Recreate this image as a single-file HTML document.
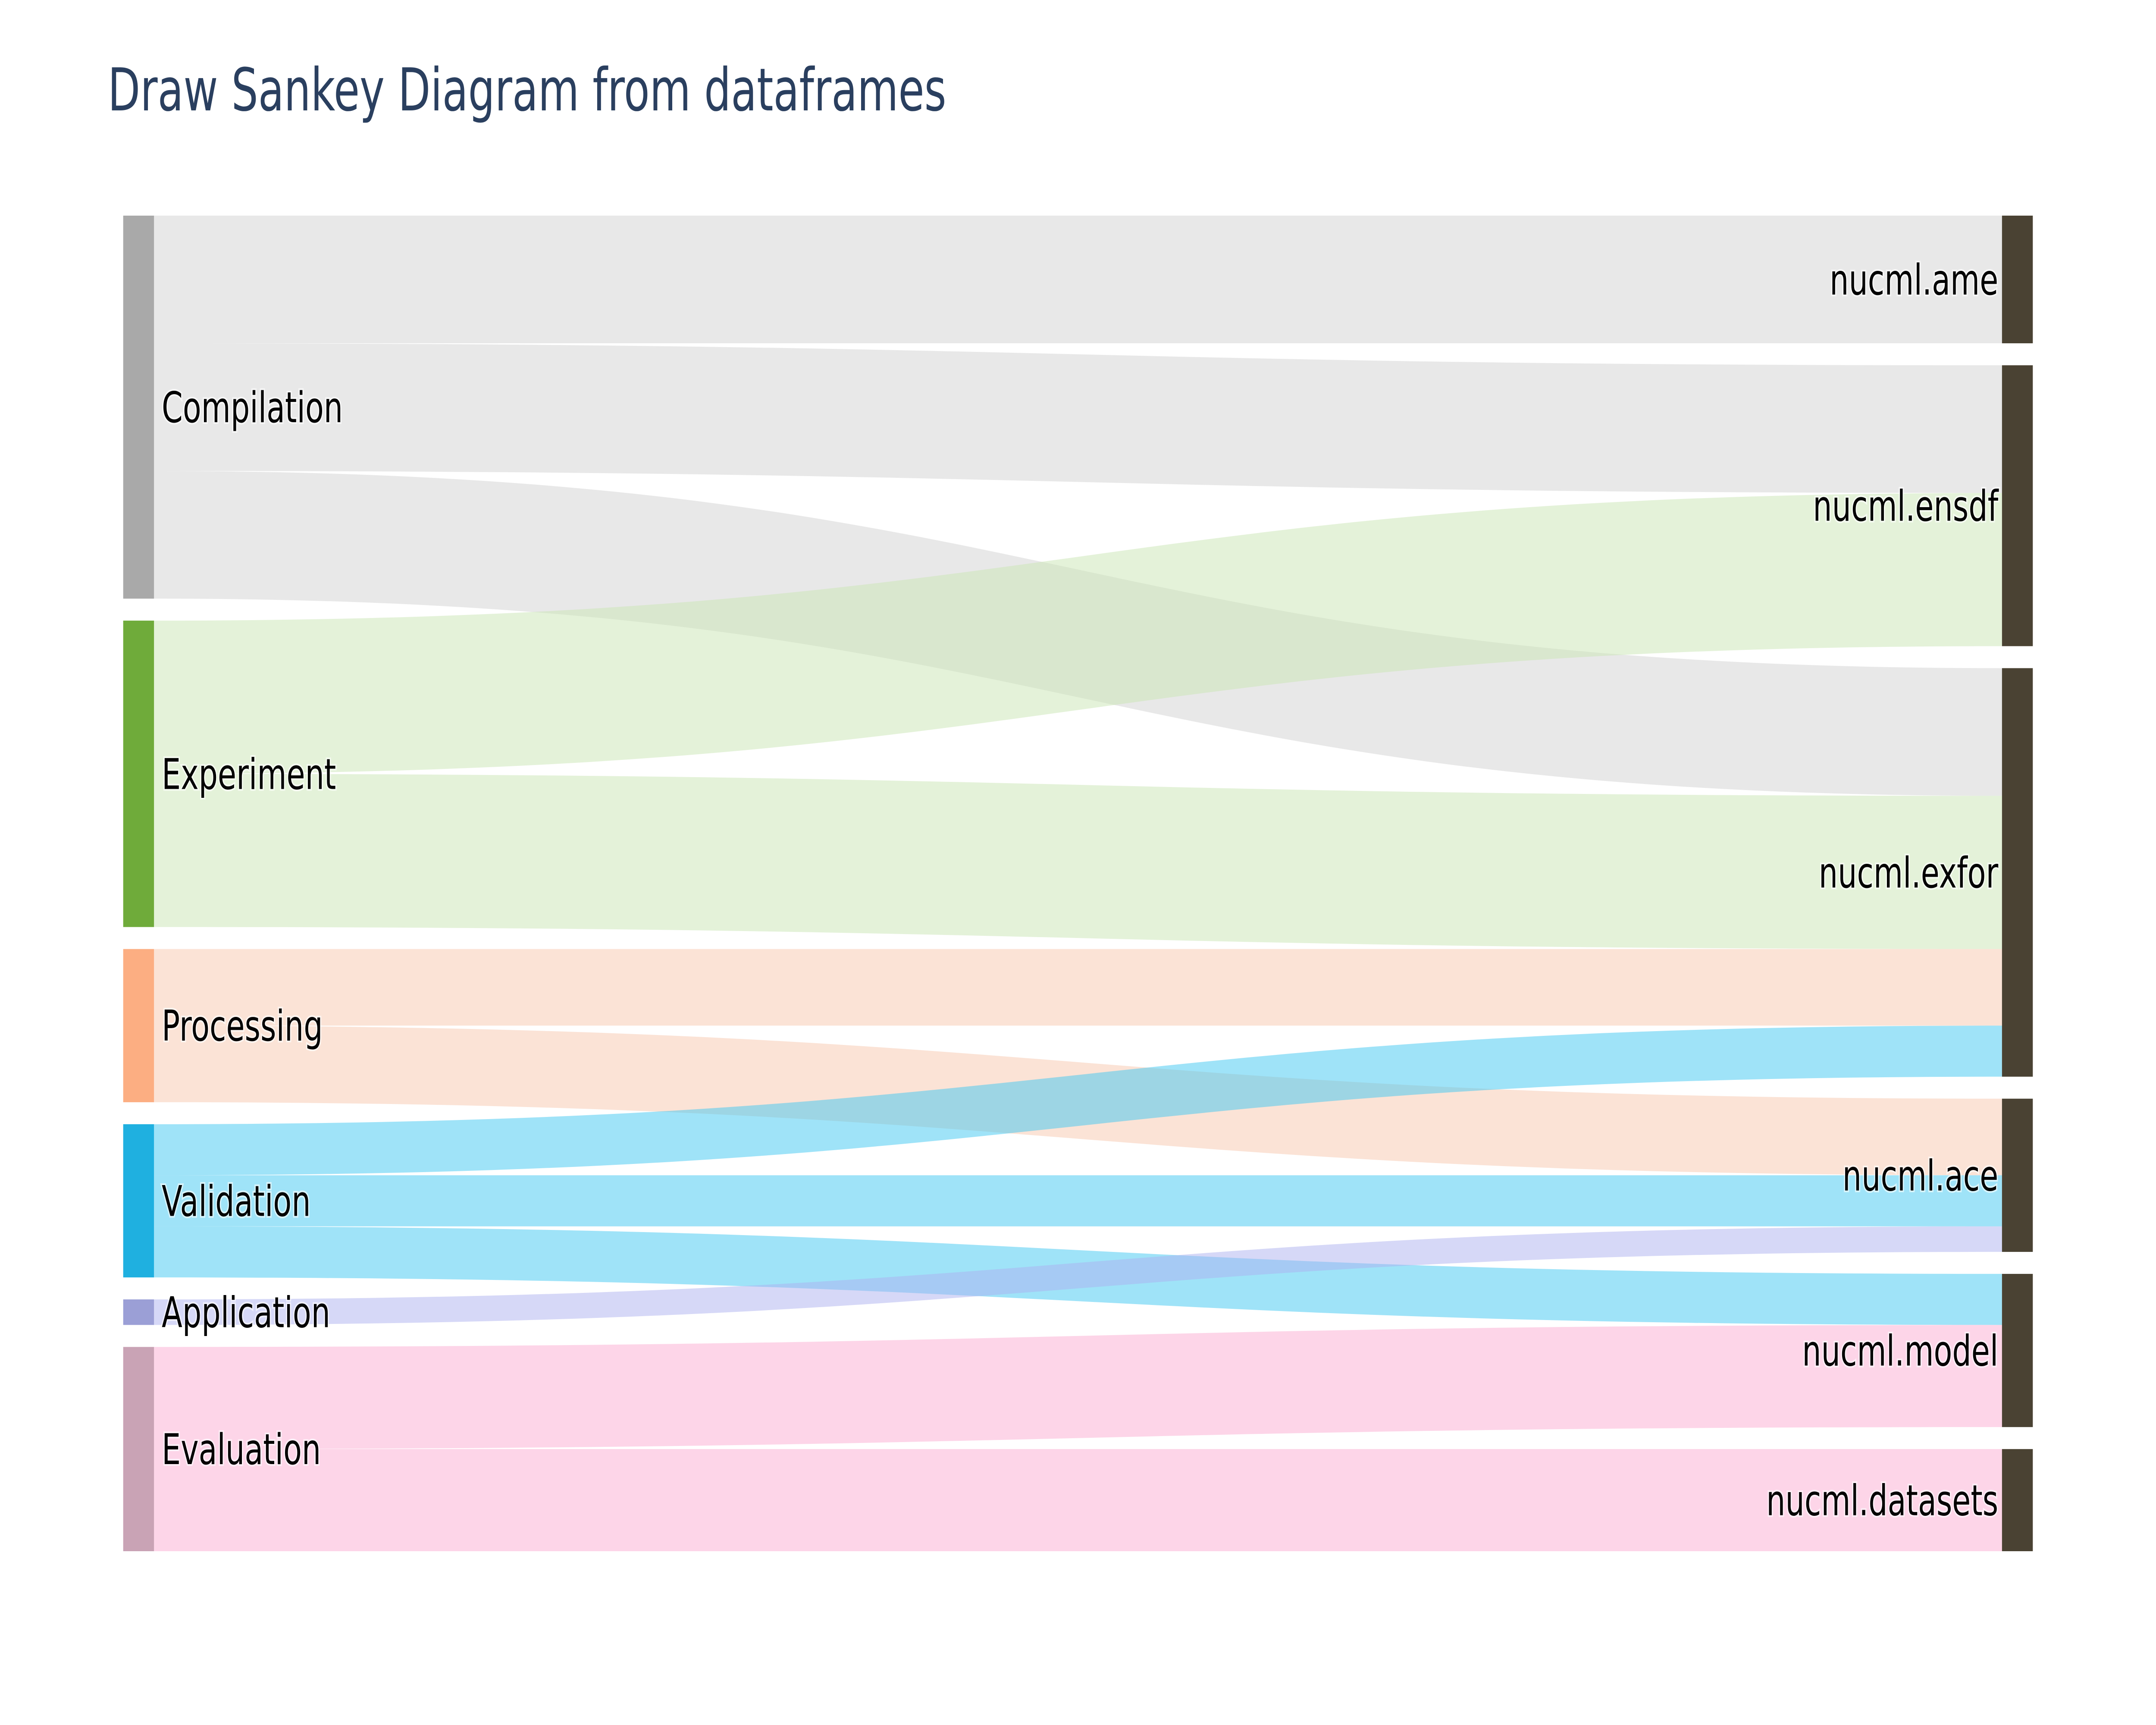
<!DOCTYPE html>
<html><head><meta charset="utf-8"><style>
html,body{margin:0;padding:0;background:#fff;width:100%;height:100%;overflow:hidden;}
svg{display:block;width:100vw;height:100vh;}
text{font-family:"DejaVu Sans","Liberation Sans",sans-serif;}
</style></head>
<body>
<svg id="chart" viewBox="0 0 7000 4000" preserveAspectRatio="none" xmlns="http://www.w3.org/2000/svg">
<rect width="7000" height="4000" fill="#fff"/>
<text x="350" y="256" font-size="137" fill="#2a3f5f">Draw Sankey Diagram from dataframes</text>
<g id="links"></g>
<g id="nodes"></g>
</svg>
<script>
const sourceNodes = ["Compilation","Experiment","Processing","Validation","Application","Evaluation"];
const targetNodes = ["nucml.ame","nucml.ensdf","nucml.exfor","nucml.ace","nucml.model","nucml.datasets"];
const linkSource = ["Compilation","Compilation","Compilation","Experiment","Experiment","Processing","Processing","Validation","Validation","Validation","Application","Evaluation","Evaluation"];
const linkTarget = ["nucml.ame","nucml.ensdf","nucml.exfor","nucml.ensdf","nucml.exfor","nucml.exfor","nucml.ace","nucml.exfor","nucml.ace","nucml.model","nucml.ace","nucml.model","nucml.datasets"];
const linkValue = [5,5,5,6,6,3,3,2,2,2,1,4,4];
const nodeColors = {"Compilation":"#a9a9a9","Experiment":"#6fab3a","Processing":"#fcae82","Validation":"#1fb0e0","Application":"#9b9fd6","Evaluation":"#c9a3b5"};
const linkColors = {"Compilation":"rgba(209,209,209,0.5)","Experiment":"rgba(201,229,179,0.5)","Processing":"rgba(247,199,173,0.5)","Validation":"rgba(63,199,241,0.5)","Application":"rgba(173,177,239,0.5)","Evaluation":"rgba(251,171,209,0.5)"};

const NS="http://www.w3.org/2000/svg";
const top0=500, bottom0=3597, gap=51;
const leftX0=400, leftX1=500, rightX0=6500, rightX1=6600;
function total(n){let s=0;for(let i=0;i<linkValue.length;i++){if(linkSource[i]===n||linkTarget[i]===n)s+=linkValue[i];}return s;}
function layout(list){
  const tot=list.reduce((a,n)=>a+total(n),0);
  const unit=(bottom0-top0-gap*(list.length-1))/tot;
  const pos={};let y=top0;
  list.forEach(n=>{const h=total(n)*unit;pos[n]={y0:y,y1:y+h};y+=h+gap;});
  return {pos,unit};
}
const L=layout(sourceNodes), R=layout(targetNodes);
const unit=Math.min(L.unit,R.unit);
const gl=document.getElementById('links');
const srcOff={}, tgtOff={};
sourceNodes.forEach(n=>srcOff[n]=L.pos[n].y0);
targetNodes.forEach(n=>tgtOff[n]=R.pos[n].y0);
const idx=linkValue.map((v,i)=>i);
const sy={}, ty={};
idx.slice().sort((a,b)=>targetNodes.indexOf(linkTarget[a])-targetNodes.indexOf(linkTarget[b])).forEach(i=>{const h=linkValue[i]*unit;sy[i]=srcOff[linkSource[i]];srcOff[linkSource[i]]+=h;});
idx.slice().sort((a,b)=>sourceNodes.indexOf(linkSource[a])-sourceNodes.indexOf(linkSource[b])).forEach(i=>{const h=linkValue[i]*unit;ty[i]=tgtOff[linkTarget[i]];tgtOff[linkTarget[i]]+=h;});
const xm=(leftX1+rightX0)/2;
idx.forEach(i=>{
  const h=linkValue[i]*unit, a=sy[i], b=ty[i];
  const d=`M${leftX1},${a} C${xm},${a} ${xm},${b} ${rightX0},${b} L${rightX0},${b+h} C${xm},${b+h} ${xm},${a+h} ${leftX1},${a+h} Z`;
  const p=document.createElementNS(NS,'path');
  p.setAttribute('d',d);p.setAttribute('fill',linkColors[linkSource[i]]);
  
  
  gl.appendChild(p);
});
const gn=document.getElementById('nodes');
function node(n,x0,x1,pos,color,left){
  const r=document.createElementNS(NS,'rect');
  r.setAttribute('x',x0);r.setAttribute('y',pos.y0);r.setAttribute('width',x1-x0);r.setAttribute('height',pos.y1-pos.y0);r.setAttribute('fill',color);
  
  
  gn.appendChild(r);
  const t=document.createElementNS(NS,'text');
  t.setAttribute('x',left?x1+25:x0-12);t.setAttribute('y',(pos.y0+pos.y1)/2+35);
  t.setAttribute('font-size','98');t.setAttribute('fill','#000');
  t.setAttribute('text-anchor',left?'start':'end');
  t.setAttribute('stroke','rgba(255,255,255,0.6)');t.setAttribute('stroke-width','8');t.setAttribute('paint-order','stroke');
  t.textContent=n;
  
  
  gn.appendChild(t);
}
sourceNodes.forEach(n=>node(n,leftX0,leftX1,L.pos[n],nodeColors[n],true));
targetNodes.forEach(n=>node(n,rightX0,rightX1,R.pos[n],'#4a4233',false));
</script>
</body></html>
